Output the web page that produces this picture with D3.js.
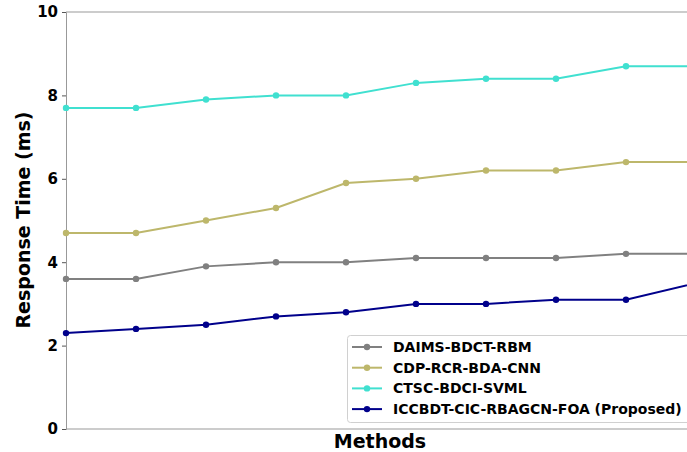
<!DOCTYPE html>
<html><head><meta charset="utf-8">
<script src="https://cdn.jsdelivr.net/npm/d3@7"></script>
<style>html,body{margin:0;padding:0;background:#fff;overflow:hidden}</style>
</head><body>
<svg id="c" width="687" height="452"></svg>
<script>
const seriesNames = ["DAIMS-BDCT-RBM","CDP-RCR-BDA-CNN","CTSC-BDCI-SVML","ICCBDT-CIC-RBAGCN-FOA (Proposed)"];
const colors = ["#808080","#bdb76b","#40e0d0","#00008b"];
const daims = [3.6,3.6,3.9,4.0,4.0,4.1,4.1,4.1,4.2,4.2];
const cdp   = [4.7,4.7,5.0,5.3,5.9,6.0,6.2,6.2,6.4,6.4];
const ctsc  = [7.7,7.7,7.9,8.0,8.0,8.3,8.4,8.4,8.7,8.7];
const icc   = [2.3,2.4,2.5,2.7,2.8,3.0,3.0,3.1,3.1,3.5];
const yTicks = [0,2,4,6,8,10];
const allSeries = [daims,cdp,ctsc,icc];

const svg = d3.select("#c");
const L=66, T=12, B=429, R=696;
const x = d3.scaleLinear().domain([0,9]).range([L,R]);
const y = d3.scaleLinear().domain([0,10]).range([B,T]);

svg.append("defs").append("clipPath").attr("id","clip")
  .append("rect").attr("x",L-6).attr("y",T-6).attr("width",687-L+6).attr("height",B-T+12);

// spines
svg.append("line").attr("x1",L).attr("x2",687).attr("y1",T).attr("y2",T).attr("stroke","#999").attr("stroke-width",1);
svg.append("line").attr("x1",L).attr("x2",687).attr("y1",B).attr("y2",B).attr("stroke","#999").attr("stroke-width",1);

const yAxis = svg.append("g").attr("transform",`translate(${L},0)`)
  .call(d3.axisLeft(y).tickValues(yTicks).tickSize(4).tickPadding(4).tickFormat(d3.format("d")));
yAxis.select(".domain").attr("stroke","#999");
yAxis.selectAll(".tick line").attr("stroke","#555");
yAxis.selectAll("text").attr("font-family","DejaVu Sans").attr("font-weight","bold").attr("font-size","15px").attr("fill","#000");

const g = svg.append("g").attr("clip-path","url(#clip)");
const line = d3.line().x((d,i)=>x(i)).y(d=>y(d));
allSeries.forEach((s,k)=>{
  g.append("path").datum(s).attr("d",line).attr("fill","none").attr("stroke",colors[k]).attr("stroke-width",2);
  g.selectAll(null).data(s).enter().append("circle")
    .attr("cx",(d,i)=>x(i)).attr("cy",d=>y(d)).attr("r",3.2).attr("fill",colors[k]);
});

// labels
svg.append("text").attr("x",380).attr("y",448).attr("text-anchor","middle")
  .attr("font-family","DejaVu Sans").attr("font-weight","bold").attr("font-size","19px").text("Methods");
svg.append("text").attr("transform","translate(30,220) rotate(-90)").attr("text-anchor","middle")
  .attr("font-family","DejaVu Sans").attr("font-weight","bold").attr("font-size","19px").text("Response Time (ms)");

// legend
const lg = svg.append("g");
lg.append("rect").attr("x",347.5).attr("y",335.5).attr("width",360).attr("height",87).attr("rx",3)
  .attr("fill","#fff").attr("fill-opacity",0.85).attr("stroke","#d0d0d0");
seriesNames.forEach((n,k)=>{
  const yy = 347 + k*20.7;
  lg.append("line").attr("x1",352).attr("x2",382).attr("y1",yy).attr("y2",yy).attr("stroke",colors[k]).attr("stroke-width",2);
  lg.append("circle").attr("cx",367).attr("cy",yy).attr("r",3.2).attr("fill",colors[k]);
  lg.append("text").attr("x",393).attr("y",yy+5).attr("font-family","DejaVu Sans").attr("font-weight","bold")
    .attr("font-size","14px").text(n);
});
</script>
</body></html>
